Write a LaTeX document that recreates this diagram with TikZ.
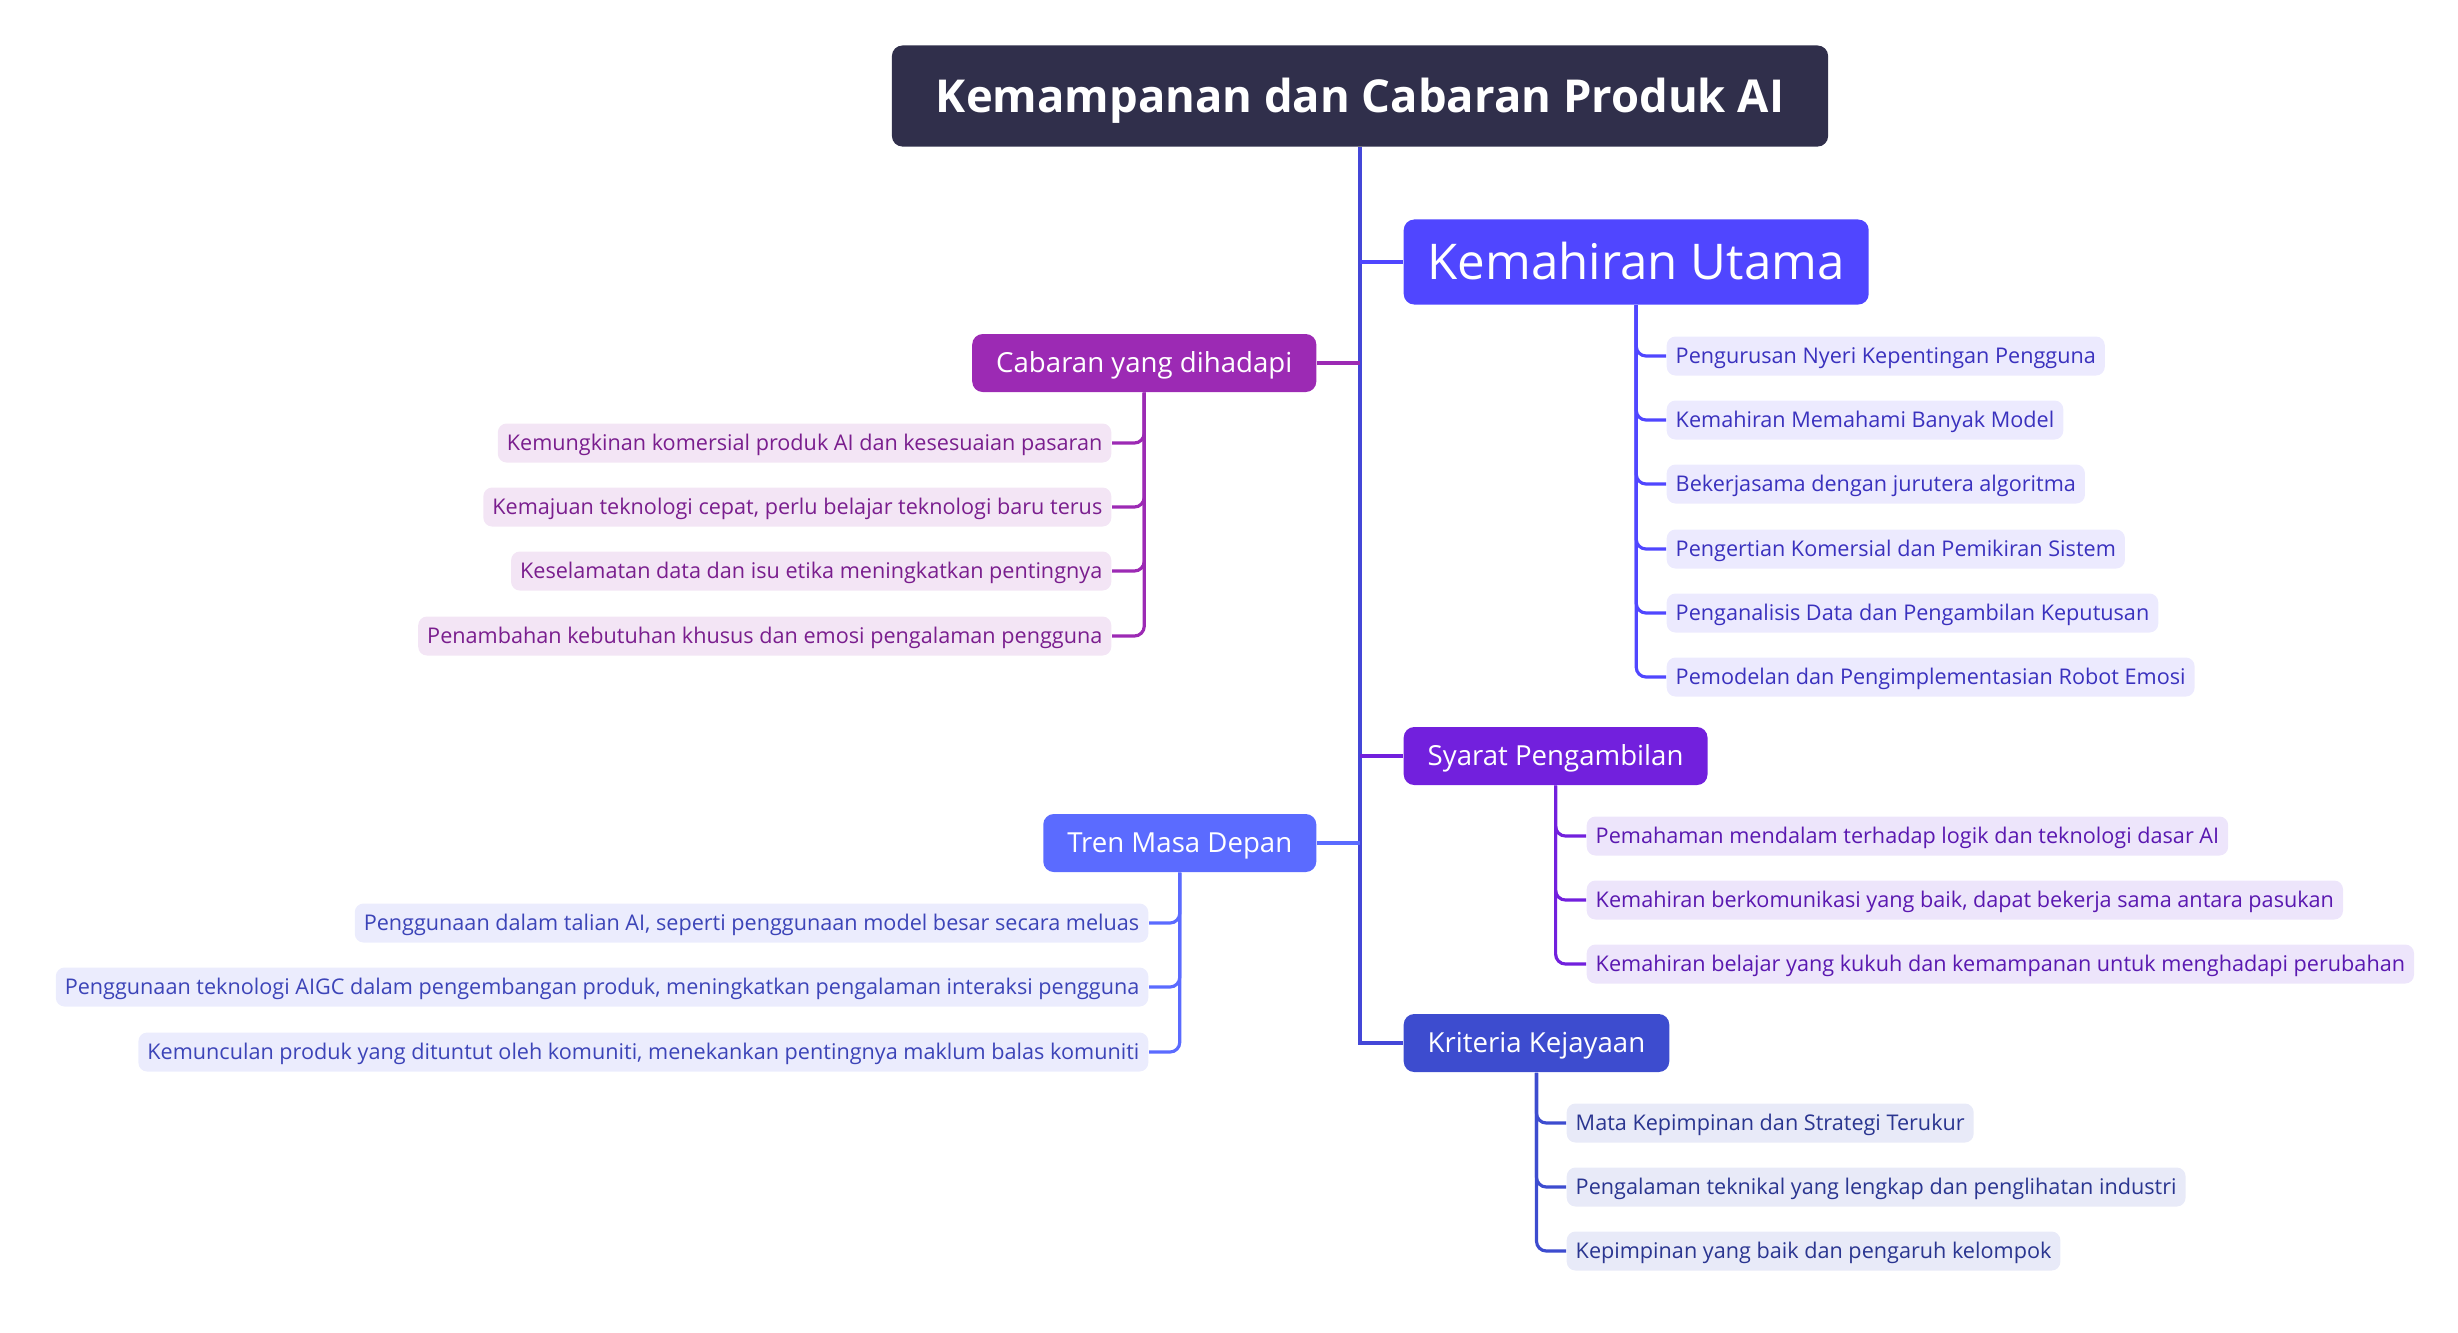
\documentclass[tikz,border=0pt]{standalone}
\usepackage{fontspec}
\setmainfont{Open Sans}
\usepackage{xcolor}
\usetikzlibrary{positioning}

\definecolor{rootfill}{HTML}{302F4B}
\definecolor{trunkc}{HTML}{4447D8}
\definecolor{kuc}{HTML}{5046FF}
\definecolor{kubg}{HTML}{ECEAFE}
\definecolor{kutx}{HTML}{3A31BE}
\definecolor{cabc}{HTML}{9C2AB4}
\definecolor{cabbg}{HTML}{F3E5F5}
\definecolor{cabtx}{HTML}{7A1E8E}
\definecolor{syac}{HTML}{7220DD}
\definecolor{syabg}{HTML}{EDE5FB}
\definecolor{syatx}{HTML}{5A18B0}
\definecolor{trec}{HTML}{5B6BFF}
\definecolor{trebg}{HTML}{EBECFD}
\definecolor{tretx}{HTML}{3C44B8}
\definecolor{krc}{HTML}{3D4CCF}
\definecolor{krbg}{HTML}{E8EAF8}
\definecolor{krtx}{HTML}{2A3590}

\begin{document}
\begin{tikzpicture}[x=0.01cm,y=-0.01cm,
  rootbox/.style={fill=rootfill,text=white,rounded corners=3pt,minimum height=1.01cm,inner xsep=0.44cm,text height=9.2pt,text depth=0pt,font=\fontsize{12.9pt}{14pt}\selectfont\bfseries},
  topic/.style={rounded corners=3pt,text=white,minimum height=0.58cm,inner xsep=0.24cm,text height=5.6pt,text depth=0pt,font=\fontsize{7.85pt}{9pt}\selectfont},
  bigtopic/.style={topic,minimum height=0.85cm,text height=10pt,font=\fontsize{14pt}{16pt}\selectfont},
  leaf/.style={rounded corners=2.5pt,minimum height=0.39cm,inner xsep=0.09cm,inner ysep=0pt,text height=4.4pt,text depth=0pt,font=\fontsize{6.15pt}{7.5pt}\selectfont},
  trunk/.style={draw=trunkc,line width=1.3pt},
  limb/.style={line width=1.1pt},
  twig/.style={line width=0.9pt,rounded corners=2.8pt}]
\useasboundingbox (0,0) rectangle (2458,1332);

% root and main topics
\node[rootbox] (root) at (1360,96) {Kemampanan dan Cabaran Produk AI};
\node[bigtopic,fill=kuc,anchor=west] (ku) at (1403,262) {Kemahiran Utama};
\node[topic,fill=cabc,anchor=east] (cab) at (1317,363) {Cabaran yang dihadapi};
\node[topic,fill=syac,anchor=west] (sya) at (1403,756) {Syarat Pengambilan};
\node[topic,fill=trec,anchor=east] (tre) at (1317,843) {Tren Masa Depan};
\node[topic,fill=krc,anchor=west] (kr) at (1403,1043) {Kriteria Kejayaan};

\draw[trunk] (root.south) |- (kr.west);
\draw[limb,draw=kuc] (root.south |- ku.west) -- (ku.west);
\draw[limb,draw=cabc] (root.south |- cab.east) -- (cab.east);
\draw[limb,draw=syac] (root.south |- sya.west) -- (sya.west);
\draw[limb,draw=trec] (root.south |- tre.east) -- (tre.east);

% Kemahiran Utama
\node[leaf,fill=kubg,text=kutx,anchor=west] (ku1) at (1666,356) {Pengurusan Nyeri Kepentingan Pengguna};
\node[leaf,fill=kubg,text=kutx,anchor=west] (ku2) at (1666,420) {Kemahiran Memahami Banyak Model};
\node[leaf,fill=kubg,text=kutx,anchor=west] (ku3) at (1666,484) {Bekerjasama dengan jurutera algoritma};
\node[leaf,fill=kubg,text=kutx,anchor=west] (ku4) at (1666,549) {Pengertian Komersial dan Pemikiran Sistem};
\node[leaf,fill=kubg,text=kutx,anchor=west] (ku5) at (1666,613) {Penganalisis Data dan Pengambilan Keputusan};
\node[leaf,fill=kubg,text=kutx,anchor=west] (ku6) at (1666,677) {Pemodelan dan Pengimplementasian Robot Emosi};
\draw[twig,draw=kuc] (ku.south) |- (ku1.west);
\draw[twig,draw=kuc] (ku.south) |- (ku2.west);
\draw[twig,draw=kuc] (ku.south) |- (ku3.west);
\draw[twig,draw=kuc] (ku.south) |- (ku4.west);
\draw[twig,draw=kuc] (ku.south) |- (ku5.west);
\draw[twig,draw=kuc] (ku.south) |- (ku6.west);

% Cabaran yang dihadapi
\node[leaf,fill=cabbg,text=cabtx,anchor=east] (cab1) at (1112,443) {Kemungkinan komersial produk AI dan kesesuaian pasaran};
\node[leaf,fill=cabbg,text=cabtx,anchor=east] (cab2) at (1112,507) {Kemajuan teknologi cepat, perlu belajar teknologi baru terus};
\node[leaf,fill=cabbg,text=cabtx,anchor=east] (cab3) at (1112,571) {Keselamatan data dan isu etika meningkatkan pentingnya};
\node[leaf,fill=cabbg,text=cabtx,anchor=east] (cab4) at (1112,636) {Penambahan kebutuhan khusus dan emosi pengalaman pengguna};
\draw[twig,draw=cabc] (cab.south) |- (cab1.east);
\draw[twig,draw=cabc] (cab.south) |- (cab2.east);
\draw[twig,draw=cabc] (cab.south) |- (cab3.east);
\draw[twig,draw=cabc] (cab.south) |- (cab4.east);

% Syarat Pengambilan
\node[leaf,fill=syabg,text=syatx,anchor=west] (sya1) at (1586,836) {Pemahaman mendalam terhadap logik dan teknologi dasar AI};
\node[leaf,fill=syabg,text=syatx,anchor=west] (sya2) at (1586,900) {Kemahiran berkomunikasi yang baik, dapat bekerja sama antara pasukan};
\node[leaf,fill=syabg,text=syatx,anchor=west] (sya3) at (1586,964) {Kemahiran belajar yang kukuh dan kemampanan untuk menghadapi perubahan};
\draw[twig,draw=syac] (sya.south) |- (sya1.west);
\draw[twig,draw=syac] (sya.south) |- (sya2.west);
\draw[twig,draw=syac] (sya.south) |- (sya3.west);

% Tren Masa Depan
\node[leaf,fill=trebg,text=tretx,anchor=east] (tre1) at (1149,923) {Penggunaan dalam talian AI, seperti penggunaan model besar secara meluas};
\node[leaf,fill=trebg,text=tretx,anchor=east] (tre2) at (1149,987) {Penggunaan teknologi AIGC dalam pengembangan produk, meningkatkan pengalaman interaksi pengguna};
\node[leaf,fill=trebg,text=tretx,anchor=east] (tre3) at (1149,1052) {Kemunculan produk yang dituntut oleh komuniti, menekankan pentingnya maklum balas komuniti};
\draw[twig,draw=trec] (tre.south) |- (tre1.east);
\draw[twig,draw=trec] (tre.south) |- (tre2.east);
\draw[twig,draw=trec] (tre.south) |- (tre3.east);

% Kriteria Kejayaan
\node[leaf,fill=krbg,text=krtx,anchor=west] (kr1) at (1566,1123) {Mata Kepimpinan dan Strategi Terukur};
\node[leaf,fill=krbg,text=krtx,anchor=west] (kr2) at (1566,1187) {Pengalaman teknikal yang lengkap dan penglihatan industri};
\node[leaf,fill=krbg,text=krtx,anchor=west] (kr3) at (1566,1251) {Kepimpinan yang baik dan pengaruh kelompok};
\draw[twig,draw=krc] (kr.south) |- (kr1.west);
\draw[twig,draw=krc] (kr.south) |- (kr2.west);
\draw[twig,draw=krc] (kr.south) |- (kr3.west);
\end{tikzpicture}
\end{document}
